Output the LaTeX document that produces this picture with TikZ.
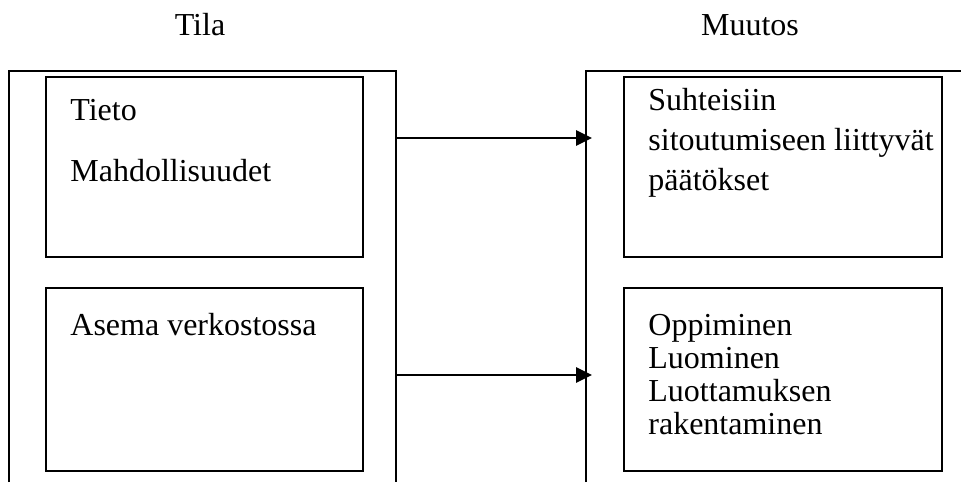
\documentclass[tikz,border=0pt]{standalone}
\usepackage{fontspec}
\setmainfont{Liberation Serif}
\usepackage{tikz}
\usetikzlibrary{arrows.meta,positioning}

\begin{document}
\begin{tikzpicture}[
x=0.5pt, y=-0.5pt,
font=\fontsize{16}{20}\selectfont,
frame/.style={line width=1pt},
inner/.style={line width=1.2pt},
txt/.style={anchor=west, inner sep=0pt, align=left},
flow/.style={line width=1.4pt, -{Triangle[length=8pt,width=7.5pt]}}
]
    \useasboundingbox (0,0) rectangle (961,482);

    % Headings
    \node (tila) at (200,25) {Tila};
    \node (muutos) at (750,25) {Muutos};

    % Outer frames (open below)
    \draw[frame] (9,482) |- (396,70.5) -- (396,482);
    \draw[frame] (586,482) |- (961,70.5);

    \draw
    (396,138) coordinate (A)
    (592,138) coordinate (A2)
    (396,375) coordinate (B)
    (592,375) coordinate (B2);

    % Inner boxes
    \draw[inner] (46,77) rectangle (363,257);
    \draw[inner] (46,288) rectangle (363,471);
    \draw[inner] (624,77) rectangle (942,257);
    \draw[inner] (624,288) rectangle (942,471);

    % Texts
    \node[txt] (tieto) at (70,110) {Tieto};
    \node[txt] (mahd) at (70,171) {Mahdollisuudet};
    \node[txt] (asema) at (70,325) {Asema verkostossa};
    \node[txt] (suhteet) at (648,143)
        {Suhteisiin\\ sitoutumiseen liittyvät\\ päätökset};
    \node[txt, font=\fontsize{16}{16.5}\selectfont] (oppiminen) at (648,375)
        {Oppiminen\\ Luominen\\ Luottamuksen\\ rakentaminen};

    % Arrows
    \draw[flow] (A) -- (A2);
    \draw[flow] (B) -- (B2);

\end{tikzpicture}
\end{document}
